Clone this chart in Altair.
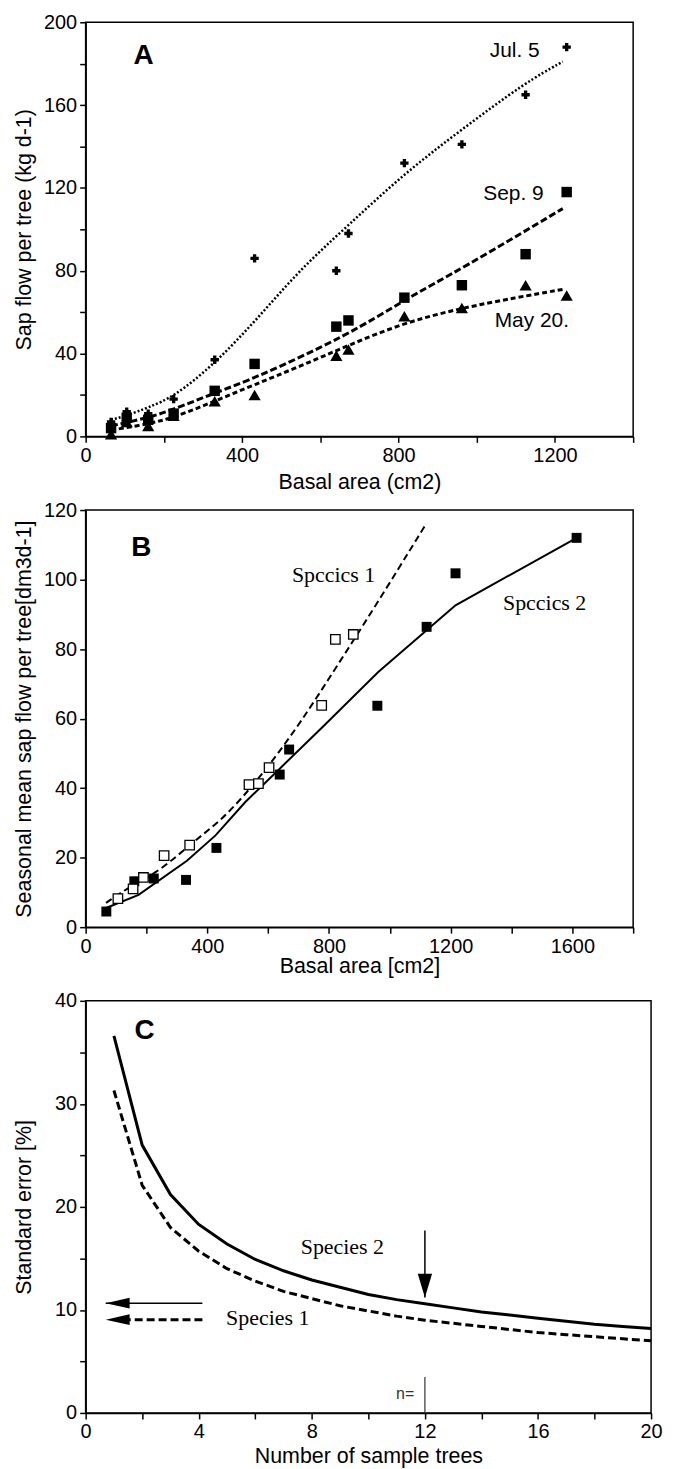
import altair as alt
import pandas as pd

SANS = "Liberation Sans"
SERIF = "Liberation Serif"

# ---------------- Panel A ----------------
a_area = [65, 105, 160, 225, 330, 432, 641, 672, 815, 962, 1125, 1230]
a_jul5 = [7, 12, 11, 18, 37, 86, 80, 98, 132, 141, 165, 188]
a_sep9 = [4, 9, 8, 11, 22, 35, 53, 56, 67, 73, 88, 118]
a_may20 = [1, 7, 5, 10, 17, 20, 39, 42, 58, 62, 73, 68]

a_fit_jul5_x = [65, 105, 160, 225, 330, 440, 550, 672, 815, 960, 1125, 1220]
a_fit_jul5_y = [8, 10, 14, 19, 35, 57, 81, 102, 127, 148, 171, 181]
a_fit_sep9_x = [65, 160, 225, 330, 432, 672, 815, 962, 1220]
a_fit_sep9_y = [5, 9, 13, 21, 28, 49, 66, 81, 110]
a_fit_may20_x = [65, 160, 225, 330, 432, 550, 672, 815, 962, 1100, 1220]
a_fit_may20_y = [3, 6, 9, 17, 25, 34, 44, 55, 62, 67, 71]

a_labels = ["Jul. 5", "Sep. 9", "May 20."]
a_labels_x = [1097, 1094, 1141]
a_labels_y = [183, 114, 53]
a_letter = ["A"]
a_letter_x = [148]
a_letter_y = [180]

# ---------------- Panel B ----------------
b_sp1_area = [106, 156, 190, 258, 342, 537, 568, 603, 776, 821, 880]
b_sp1_flow = [8.2, 11.0, 14.3, 20.6, 23.6, 41.0, 41.3, 45.9, 63.8, 82.8, 84.2]
b_sp2_area = [68, 160, 224, 330, 430, 638, 669, 959, 1121, 1216, 1614]
b_sp2_flow = [4.5, 13.2, 14.0, 13.6, 22.8, 43.9, 51.1, 63.7, 86.4, 101.8, 112.0]

b_fit1_x = [67, 160, 245, 354, 450, 537, 603, 708, 821, 948, 1117]
b_fit1_y = [7.0, 12.5, 16.2, 24.6, 31.0, 39.5, 46.5, 59.0, 74.4, 91.7, 115.7]
b_fit2_x = [67, 174, 333, 427, 525, 638, 779, 962, 1121, 1216, 1610]
b_fit2_y = [5.5, 9.3, 19.1, 26.4, 36.0, 45.6, 57.6, 73.4, 85.4, 92.6, 111.8]

b_labels = ["Spccics 1", "Spccics 2"]
b_labels_x = [815, 1509]
b_labels_y = [99.4, 91.2]
b_letter = ["B"]
b_letter_x = [183]
b_letter_y = [106.8]

# ---------------- Panel C ----------------
c_n = [1, 2, 3, 4, 5, 6, 7, 8, 9, 10, 11, 12, 13, 14, 15, 16, 17, 18, 19, 20]
c_sp2 = [36.6, 26.0, 21.2, 18.3, 16.4, 14.9, 13.8, 12.9, 12.2, 11.5,
         11.0, 10.6, 10.2, 9.8, 9.5, 9.2, 8.9, 8.6, 8.4, 8.2]
c_sp1 = [31.3, 22.1, 18.0, 15.7, 14.0, 12.8, 11.8, 11.1, 10.4, 9.9,
         9.4, 9.0, 8.7, 8.4, 8.1, 7.8, 7.6, 7.4, 7.2, 7.0]

c_labels = ["Species 2", "Species 1"]
c_labels_x = [9.08, 6.44]
c_labels_y = [15.4, 8.5]
c_letter = ["C"]
c_letter_x = [2.08]
c_letter_y = [36.3]

c_harrow_y = [10.65, 9.05]
c_harrow_from = [4.13, 4.13]
c_harrow_tip = [0.71, 0.71]
c_varrow_x = [12]
c_varrow_from = [17.7]
c_varrow_tip = [11.2]
c_nmark_x = [12]
c_nmark_y = [0]
c_nmark_y2 = [3.5]
c_ntext = ["n="]
c_ntext_x = [11.3]
c_ntext_y = [1.4]


def df(**cols):
    return pd.DataFrame(cols)


def xaxis(values, every, title, ty):
    return alt.Axis(values=values, format="d",
                    labelExpr=f"datum.value % {every} == 0 ? datum.label : ''",
                    title=title, titleY=ty, titleBaseline="alphabetic")


def yaxis(values, every, title):
    return alt.Axis(values=values, format="d",
                    labelExpr=f"datum.value % {every} == 0 ? datum.label : ''",
                    title=title, titleX=-61, titleBaseline="middle", titleAngle=270)


def text_layer(data, X, Y, font, size, weight="normal"):
    return alt.Chart(data).mark_text(font=font, fontSize=size, fontWeight=weight, align="center",
                                      baseline="alphabetic", color="black").encode(x=X, y=Y, text="t:N")


# ---- Panel A chart ----
AX = alt.X("x:Q", scale=alt.Scale(domain=[0, 1400], nice=False),
           axis=xaxis(list(range(0, 1401, 200)), 400, "Basal area (cm2)", 52))
AY = alt.Y("y:Q", scale=alt.Scale(domain=[0, 200], nice=False),
           axis=yaxis(list(range(0, 201, 20)), 40, "Sap flow per tree (kg d-1)"))

pa = alt.layer(
    alt.Chart(df(x=a_fit_jul5_x, y=a_fit_jul5_y)).mark_line(color="black", strokeWidth=2.5, strokeDash=[2, 2], interpolate="basis").encode(x=AX, y=AY),
    alt.Chart(df(x=a_fit_sep9_x, y=a_fit_sep9_y)).mark_line(color="black", strokeWidth=3, strokeDash=[7, 3], interpolate="basis").encode(x=AX, y=AY),
    alt.Chart(df(x=a_fit_may20_x, y=a_fit_may20_y)).mark_line(color="black", strokeWidth=3, strokeDash=[5, 3], interpolate="basis").encode(x=AX, y=AY),
    alt.Chart(df(x=a_area, y=a_jul5)).mark_point(shape="cross", filled=True, size=70, color="black", opacity=1).encode(x=AX, y=AY),
    alt.Chart(df(x=a_area, y=a_sep9)).mark_point(shape="square", filled=True, size=110, color="black", opacity=1).encode(x=AX, y=AY),
    alt.Chart(df(x=a_area, y=a_may20)).mark_point(shape="triangle-up", filled=True, size=150, color="black", opacity=1).encode(x=AX, y=AY),
    text_layer(df(x=a_labels_x, y=a_labels_y, t=a_labels), AX, AY, SANS, 21),
    text_layer(df(x=a_letter_x, y=a_letter_y, t=a_letter), AX, AY, SANS, 28, "bold"),
).properties(width=550, height=416)

# ---- Panel B chart ----
BX = alt.X("x:Q", scale=alt.Scale(domain=[0, 1800], nice=False),
           axis=xaxis(list(range(0, 1801, 200)), 400, "Basal area [cm2]", 46))
BY = alt.Y("y:Q", scale=alt.Scale(domain=[0, 120], nice=False),
           axis=yaxis(list(range(0, 121, 20)), 20, "Seasonal mean sap flow per tree[dm3d-1]"))

pb = alt.layer(
    alt.Chart(df(x=b_fit1_x, y=b_fit1_y)).mark_line(color="black", strokeWidth=2, strokeDash=[7, 4], interpolate="basis").encode(x=BX, y=BY),
    alt.Chart(df(x=b_fit2_x, y=b_fit2_y)).mark_line(color="black", strokeWidth=2).encode(x=BX, y=BY),
    alt.Chart(df(x=b_sp2_area, y=b_sp2_flow)).mark_point(shape="square", filled=True, size=100, color="black", opacity=1).encode(x=BX, y=BY),
    alt.Chart(df(x=b_sp1_area, y=b_sp1_flow)).mark_point(shape="square", filled=True, size=90, fill="white", stroke="black", strokeWidth=1.3, opacity=1).encode(x=BX, y=BY),
    text_layer(df(x=b_labels_x, y=b_labels_y, t=b_labels), BX, BY, SERIF, 22),
    text_layer(df(x=b_letter_x, y=b_letter_y, t=b_letter), BX, BY, SANS, 28, "bold"),
).properties(width=550, height=419)

# ---- Panel C chart ----
CX = alt.X("x:Q", scale=alt.Scale(domain=[0, 20], nice=False),
           axis=xaxis(list(range(0, 21, 2)), 4, "Number of sample trees", 50))
CY = alt.Y("y:Q", scale=alt.Scale(domain=[0, 40], nice=False),
           axis=yaxis(list(range(0, 41, 5)), 10, "Standard error [%]"))

LEFT_HEAD = "M0,0 L2,-0.45 L2,0.45 Z"
DOWN_HEAD = "M0,0 L-0.6,-2 L0.6,-2 Z"

pc = alt.layer(
    alt.Chart(df(x=c_n, y=c_sp1)).mark_line(color="black", strokeWidth=3, strokeDash=[8, 4]).encode(x=CX, y=CY),
    alt.Chart(df(x=c_n, y=c_sp2)).mark_line(color="black", strokeWidth=3).encode(x=CX, y=CY),
    alt.Chart(df(x=c_harrow_from[:1], x2=c_harrow_tip[:1], y=c_harrow_y[:1])).mark_rule(color="black", strokeWidth=1.5).encode(x=CX, x2="x2:Q", y=CY),
    alt.Chart(df(x=c_harrow_from[1:], x2=[1.5], y=c_harrow_y[1:])).mark_rule(color="black", strokeWidth=3, strokeDash=[8, 4]).encode(x=CX, x2="x2:Q", y=CY),
    alt.Chart(df(x=c_harrow_tip, y=c_harrow_y)).mark_point(shape=LEFT_HEAD, size=576, filled=True, color="black", opacity=1).encode(x=CX, y=CY),
    alt.Chart(df(x=c_varrow_x, y=c_varrow_from, y2=c_varrow_tip)).mark_rule(color="black", strokeWidth=1.5).encode(x=CX, y=CY, y2="y2:Q"),
    alt.Chart(df(x=c_varrow_x, y=c_varrow_tip)).mark_point(shape=DOWN_HEAD, size=576, filled=True, color="black", opacity=1).encode(x=CX, y=CY),
    alt.Chart(df(x=c_nmark_x, y=c_nmark_y, y2=c_nmark_y2)).mark_rule(color="#333333", strokeWidth=1.2).encode(x=CX, y=CY, y2="y2:Q"),
    alt.Chart(df(x=c_ntext_x, y=c_ntext_y, t=c_ntext)).mark_text(font=SANS, fontSize=16, align="center", baseline="alphabetic", color="#333333").encode(x=CX, y=CY, text="t:N"),
    text_layer(df(x=c_labels_x, y=c_labels_y, t=c_labels), CX, CY, SERIF, 22),
    text_layer(df(x=c_letter_x, y=c_letter_y, t=c_letter), CX, CY, SANS, 28, "bold"),
).properties(width=568, height=414)

chart = alt.vconcat(pa, pb, pc, spacing=74, bounds="flush").properties(
    padding={"left": 5, "top": 0, "right": 5, "bottom": 5}
).configure_view(
    stroke="black", strokeWidth=1.5
).configure_axis(
    labelFont=SANS, labelFontSize=20, labelColor="black", labelFlush=False, labelOverlap=False,
    labelPadding=3, titleFont=SANS, titleFontSize=21.5, titleFontWeight="normal", titleColor="black",
    domainColor="black", domainWidth=1.5, tickColor="black", tickWidth=1.5, tickSize=6, grid=False,
)

chart.save("out.html", embed_options={"renderer": "svg", "actions": False})
